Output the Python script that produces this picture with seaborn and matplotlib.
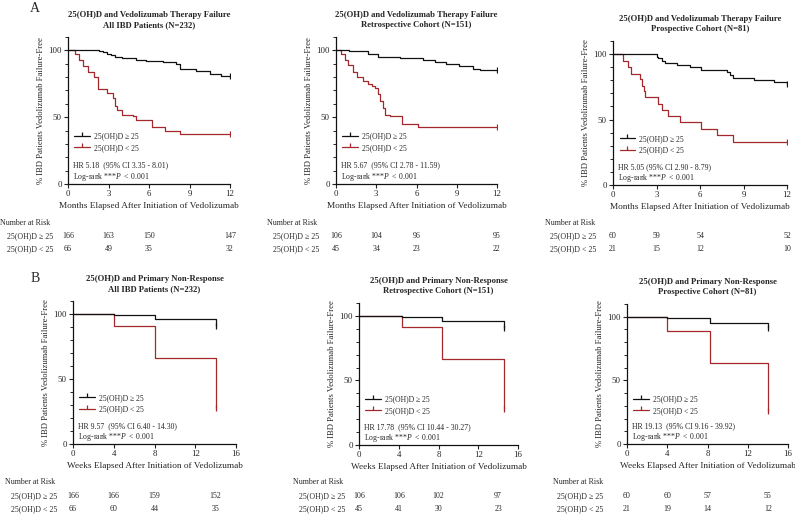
import matplotlib.pyplot as plt
import matplotlib.transforms as mtransforms
from matplotlib.lines import Line2D
import seaborn as sns

# ---- data ----
# Panel A: months, therapy failure
a1_hi_t = [0, 2.3, 2.6, 2.9, 3.2, 3.5, 4.0, 5.0, 5.8, 7.0, 8.0, 8.3, 9.5, 10.5, 11.3, 12]
a1_hi_s = [100, 99.5, 98.5, 97.5, 96.5, 95, 94, 93, 92, 91, 89.5, 86, 84.5, 82.5, 81, 80.5]
a1_lo_t = [0, 0.5, 0.8, 1.1, 1.5, 1.9, 2.2, 2.9, 3.3, 3.45, 3.6, 4.0, 4.8, 5.0, 6.2, 7.2, 8.3, 12]
a1_lo_s = [100, 97, 93, 88, 84, 80, 71, 68, 64, 58, 55, 52, 51, 48, 43, 40, 37.5, 37.5]

a2_hi_t = [0, 1.0, 2.4, 3.15, 4.8, 6.5, 7.4, 8.2, 9.2, 10.2, 10.7, 12]
a2_hi_s = [100, 99.5, 97.5, 95, 94, 92.5, 91, 89.5, 88, 86, 85, 85]
a2_lo_t = [0, 0.4, 0.67, 0.9, 1.3, 1.55, 2.0, 2.4, 2.65, 2.9, 3.15, 3.3, 3.5, 3.65, 4.0, 4.9, 6.1, 12]
a2_lo_s = [100, 97, 93, 89, 84, 80, 77, 75, 73, 71.5, 67, 62, 57, 52, 51, 45, 43, 43]

a3_hi_t = [0, 3.0, 3.1, 3.35, 3.6, 4.4, 5.3, 6.1, 7.85, 8.1, 8.3, 9.7, 11.1, 12]
a3_hi_s = [100, 98, 97, 95, 93, 91.5, 90, 88, 86, 84, 82, 80, 78.5, 77]
a3_lo_t = [0, 0.7, 1.04, 1.27, 1.85, 2.0, 2.15, 2.2, 3.1, 3.35, 3.8, 4.6, 6.1, 7.15, 8.3, 12]
a3_lo_s = [100, 95, 90, 85, 81, 76, 72, 67, 62, 57, 52.5, 48, 43, 38, 33, 33]

# Panel B: weeks, primary non-response
b1_hi_t = [0, 4.0, 8.0, 14.0]
b1_hi_s = [100, 99.5, 96, 91]
b1_lo_t = [0, 4.0, 8.0, 14.0]
b1_lo_s = [100, 91, 66, 28]

b2_hi_t = [0, 4.3, 8.4, 14.6]
b2_hi_s = [100, 99.5, 96, 90.5]
b2_lo_t = [0, 4.3, 8.4, 14.6]
b2_lo_s = [100, 91.5, 67, 28]

b3_hi_t = [0, 4.0, 8.2, 14.0]
b3_hi_s = [100, 99, 95, 91]
b3_lo_t = [0, 4.0, 8.2, 14.0]
b3_lo_s = [100, 89, 64, 26]

# number at risk
a_risk_t = [0, 3, 6, 12]
b_risk_t = [0, 4, 8, 14]
a1_risk_hi = [166, 163, 150, 147]
a1_risk_lo = [66, 49, 35, 32]
a2_risk_hi = [106, 104, 96, 95]
a2_risk_lo = [45, 34, 23, 22]
a3_risk_hi = [60, 59, 54, 52]
a3_risk_lo = [21, 15, 12, 10]
b1_risk_hi = [166, 166, 159, 152]
b1_risk_lo = [66, 60, 44, 35]
b2_risk_hi = [106, 106, 102, 97]
b2_risk_lo = [45, 41, 30, 23]
b3_risk_hi = [60, 60, 57, 55]
b3_risk_lo = [21, 19, 14, 12]

hr_text = ['HR 5.18  (95% CI 3.35 - 8.01)', 'HR 5.67  (95% CI 2.78 - 11.59)', 'HR 5.05 (95% CI 2.90 - 8.79)',
           'HR 9.57  (95% CI 6.40 - 14.30)', 'HR 17.78  (95% CI 10.44 - 30.27)', 'HR 19.13  (95% CI 9.16 - 39.92)']
titles = ['25(OH)D and Vedolizumab Therapy Failure\nAll IBD Patients (N=232)',
          '25(OH)D and Vedolizumab Therapy Failure\nRetrospective Cohort (N=151)',
          '25(OH)D and Vedolizumab Therapy Failure\nProspective Cohort (N=81)',
          '25(OH)D and Primary Non-Response\nAll IBD Patients (N=232)',
          '25(OH)D and Primary Non-Response\nRetrospective Cohort (N=151)',
          '25(OH)D and Primary Non-Response\nProspective Cohort (N=81)']
lab_hi = '25(OH)D \u2265 25'
lab_lo = '25(OH)D < 25'

BLACK = '#111111'
RED = '#a5282c'

sns.set_theme(style='ticks')
plt.rcParams['font.family'] = ['Liberation Serif', 'DejaVu Serif']
plt.rcParams['mathtext.fontset'] = 'custom'
plt.rcParams['mathtext.it'] = 'Liberation Serif:italic'
plt.rcParams['mathtext.rm'] = 'Liberation Serif'

W, H = 795, 515
fig = plt.figure(figsize=(W / 100, H / 100), dpi=100)


def px_ax(left, right, top, bottom):
    return fig.add_axes([left / W, 1 - bottom / H, (right - left) / W, (bottom - top) / H])


def draw_panel(rect, hi, lo, xmax, xticks, xlabel, title, hr, risk_t, risk_hi, risk_lo, risk_px):
    ax = px_ax(*rect)
    # red first so the black curve sits on top where they overlap
    sns.lineplot(x=lo[0], y=lo[1], drawstyle='steps-post', color=RED, lw=0.9, ax=ax, estimator=None)
    sns.lineplot(x=hi[0], y=hi[1], drawstyle='steps-post', color=BLACK, lw=0.9, ax=ax, estimator=None)
    ax.plot(hi[0][-1], hi[1][-1], marker='|', color=BLACK, ms=4, mew=0.9)
    ax.plot(lo[0][-1], lo[1][-1], marker='|', color=RED, ms=4, mew=0.9)
    ax.set_xlim(0, xmax)
    ax.set_ylim(0, 110)
    ax.set_xticks(xticks)
    ax.set_yticks([0, 50, 100])
    ax.set_yticks(range(0, 111, 10), minor=True)
    ax.tick_params(axis='both', labelsize=6.3, length=3, width=0.8, pad=1.5, colors='#222222')
    ax.tick_params(axis='y', which='minor', length=2, width=0.7)
    for s in ['left', 'bottom']:
        ax.spines[s].set_linewidth(0.9)
        ax.spines[s].set_color('#111111')
    sns.despine(ax=ax)
    ax.set_xlabel(xlabel, fontsize=6.7, labelpad=3)
    ax.set_ylabel('% IBD Patients Vedolizumab Failure-Free', fontsize=6.2)
    ax.yaxis.set_label_coords(-23 / (rect[1] - rect[0]), 0.5)
    cx = (rect[0] + rect[1]) / 2
    fig.text(cx / W, 1 - (rect[2] - 17) / H, title, ha='center', va='center', fontsize=6.2,
             fontweight='bold', linespacing=1.25)
    handles = [Line2D([], [], color=BLACK, lw=0.9, marker=2, ms=3, mew=0.9),
               Line2D([], [], color=RED, lw=0.9, marker=2, ms=3, mew=0.9)]
    ax.legend(handles, [lab_hi, lab_lo], loc='upper left', bbox_to_anchor=(0.02, 0.37), frameon=False,
              fontsize=5.5, handlelength=2.0, handletextpad=0.6, labelspacing=0.45, borderaxespad=0)
    ax.text(0.03, 0.125, hr, transform=ax.transAxes, fontsize=5.6, va='center')
    ax.text(0.03, 0.05, r'Log-rank ***$\mathit{P\ <\ 0.001}$', transform=ax.transAxes, fontsize=5.6,
            va='center')
    # number at risk table
    nx, ny, lx, r1, r2 = risk_px
    fig.text(nx / W, 1 - ny / H, 'Number at Risk', fontsize=5.7, va='center')
    fig.text(lx / W, 1 - r1 / H, lab_hi, fontsize=5.7, va='center')
    fig.text(lx / W, 1 - r2 / H, lab_lo, fontsize=5.7, va='center')
    tr = mtransforms.blended_transform_factory(ax.transData, fig.transFigure)
    for t, a, b in zip(risk_t, risk_hi, risk_lo):
        ax.text(t, 1 - r1 / H, str(a), transform=tr, fontsize=5.7, ha='center', va='center', clip_on=False)
        ax.text(t, 1 - r2 / H, str(b), transform=tr, fontsize=5.7, ha='center', va='center', clip_on=False)
    return ax


mlab = 'Months Elapsed After Initiation of Vedolizumab'
wlab = 'Weeks Elapsed After Initiation of Vedolizumab'

draw_panel((68, 230, 37, 184), (a1_hi_t, a1_hi_s), (a1_lo_t, a1_lo_s), 12, [0, 3, 6, 9, 12], mlab,
           titles[0], hr_text[0], a_risk_t, a1_risk_hi, a1_risk_lo, (0, 223, 7, 236, 249))
draw_panel((336, 497, 37, 184), (a2_hi_t, a2_hi_s), (a2_lo_t, a2_lo_s), 12, [0, 3, 6, 9, 12], mlab,
           titles[1], hr_text[1], a_risk_t, a2_risk_hi, a2_risk_lo, (267, 223, 273, 236, 249))
draw_panel((613, 787, 41, 185), (a3_hi_t, a3_hi_s), (a3_lo_t, a3_lo_s), 12, [0, 3, 6, 9, 12], mlab,
           titles[2], hr_text[2], a_risk_t, a3_risk_hi, a3_risk_lo, (545, 223, 550, 236, 249))
draw_panel((73, 236, 301, 444), (b1_hi_t, b1_hi_s), (b1_lo_t, b1_lo_s), 16, [0, 4, 8, 12, 16], wlab,
           titles[3], hr_text[3], b_risk_t, b1_risk_hi, b1_risk_lo, (5, 482, 11, 496, 509))
draw_panel((359, 518, 303, 445), (b2_hi_t, b2_hi_s), (b2_lo_t, b2_lo_s), 16, [0, 4, 8, 12, 16], wlab,
           titles[4], hr_text[4], b_risk_t, b2_risk_hi, b2_risk_lo, (293, 482, 299, 496, 509))
draw_panel((627, 788, 304, 444), (b3_hi_t, b3_hi_s), (b3_lo_t, b3_lo_s), 16, [0, 4, 8, 12, 16], wlab,
           titles[5], hr_text[5], b_risk_t, b3_risk_hi, b3_risk_lo, (553, 482, 557, 496, 509))

fig.text(35 / W, 1 - 9 / H, 'A', fontsize=10, va='center', ha='center')
fig.text(35 / W, 1 - 279 / H, 'B', fontsize=10, va='center', ha='center')

fig.savefig('out.png', dpi=100)
